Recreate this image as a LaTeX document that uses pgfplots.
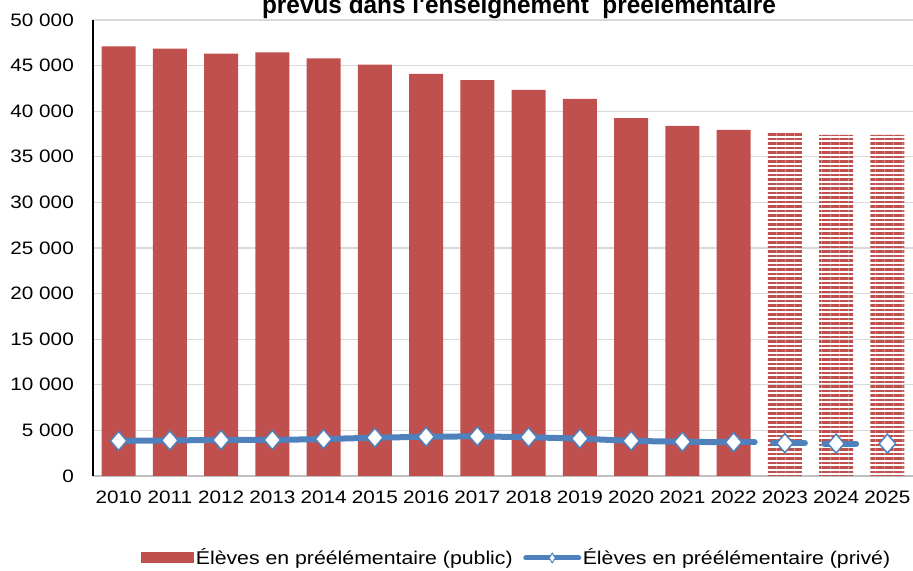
\documentclass[border=0pt]{standalone}
\usepackage{fontspec}
\setmainfont{Liberation Sans}[FakeStretch=1.15]
\newfontfamily\titlefont{Liberation Sans}[FakeStretch=0.975]
\usepackage{pgfplots}
\pgfplotsset{compat=1.18}
\usetikzlibrary{patterns.meta}
\definecolor{barred}{HTML}{C0504D}
\definecolor{lineblue}{HTML}{4F81BD}
\definecolor{gridgray}{HTML}{D9D9D9}
\definecolor{axisgray}{HTML}{BFBFBF}
\begin{document}
\fontsize{18}{21}\selectfont
\begin{tikzpicture}
\begin{axis}[
  scale only axis, width=820pt, height=456pt,
  xmin=-0.5, xmax=15.5, ymin=0, ymax=50000,
  xtick={0,...,15},
  xticklabels={2010,2011,2012,2013,2014,2015,2016,2017,2018,2019,2020,2021,2022,2023,2024,2025},
  ytick={0,5000,...,50000},
  ymajorgrids, grid style={gridgray, line width=1.2pt},
  axis x line=bottom, axis y line=left,
  axis line style={-},
  x axis line style={axisgray, line width=1.2pt},
  y axis line style={black, line width=1.5pt},
  major tick length=0pt,
  scaled y ticks=false,
  /pgf/number format/assume math mode=true,
  yticklabel style={/pgf/number format/1000 sep={\ }, xshift=-13pt},
  xticklabel style={yshift=-9pt},
  legend style={at={(0.5165,0)}, anchor=center, yshift=-82pt, draw=none, fill=none,
    legend columns=2, font=\fontsize{18.5}{22}\selectfont,
    nodes={inner sep=1.5pt},
    /tikz/every even column/.append style={column sep=9pt},
    legend cell align=left},
]
\coordinate (SW) at (rel axis cs:0,0);
\coordinate (NE) at (rel axis cs:1,1);
\coordinate (T) at (rel axis cs:0.5195,1);
\addplot[ybar, bar width=34pt, bar shift=0pt, fill=barred, draw=none,
  legend image code/.code={\fill[barred] (0pt,-5.5pt) rectangle (53pt,5.5pt);}]
  coordinates {(0,47100) (1,46850) (2,46300) (3,46450) (4,45800) (5,45100) (6,44100) (7,43400) (8,42350) (9,41350) (10,39250) (11,38400) (12,37950)};
\addlegendentry{Élèves en préélémentaire (public)}
\addplot[forget plot, ybar, bar width=34pt, bar shift=0pt, draw=none,
  pattern={Lines[angle=0,distance=4.5pt,line width=2.3pt]}, pattern color=barred]
  coordinates {(13,37750) (14,37400) (15,37400)};
\addplot[lineblue, line width=6pt, line join=round, mark=diamond*, mark size=9.5pt,
  mark options={fill=white, draw=lineblue, line width=1.5pt, xscale=1.15},
  legend image code/.code={\draw[lineblue,line width=5pt,line cap=round] (2pt,0pt)--(55pt,0pt);
    \draw[lineblue, fill=white, line width=1pt] (28.5pt,5pt)--(31.5pt,0pt)--(28.5pt,-5pt)--(25.5pt,0pt)--cycle;}]
  coordinates {(0,3850) (1,3900) (2,3950) (3,3950) (4,4050) (5,4200) (6,4300) (7,4350) (8,4250) (9,4100) (10,3850) (11,3750) (12,3700)};
\addlegendentry{Élèves en préélémentaire (privé)}
\addplot[forget plot, draw=none, mark=none,
  error bars/.cd, x dir=both, x explicit, error mark=none,
  error bar style={lineblue, line width=6pt, line cap=round}]
  coordinates {(12,3700) += (0.41,0) -= (0,0) (13,3600) += (0.39,0) -= (0.23,0) (14,3550) += (0.39,0) -= (0.23,0)};
\addplot[forget plot, only marks, mark=diamond*, mark size=9.5pt,
  mark options={fill=white, draw=lineblue, line width=1.5pt, xscale=1.15}]
  coordinates {(12,3700) (13,3600) (14,3550) (15,3550)};
\end{axis}
\node[anchor=base, font=\titlefont\bfseries\fontsize{25}{28}\selectfont] at ([yshift=6pt]T) {prévus dans l'enseignement \ préélémentaire};
\pgfresetboundingbox
\path ([xshift=-93pt,yshift=-95pt]SW) rectangle ([yshift=20pt]NE);
\end{tikzpicture}
\end{document}
